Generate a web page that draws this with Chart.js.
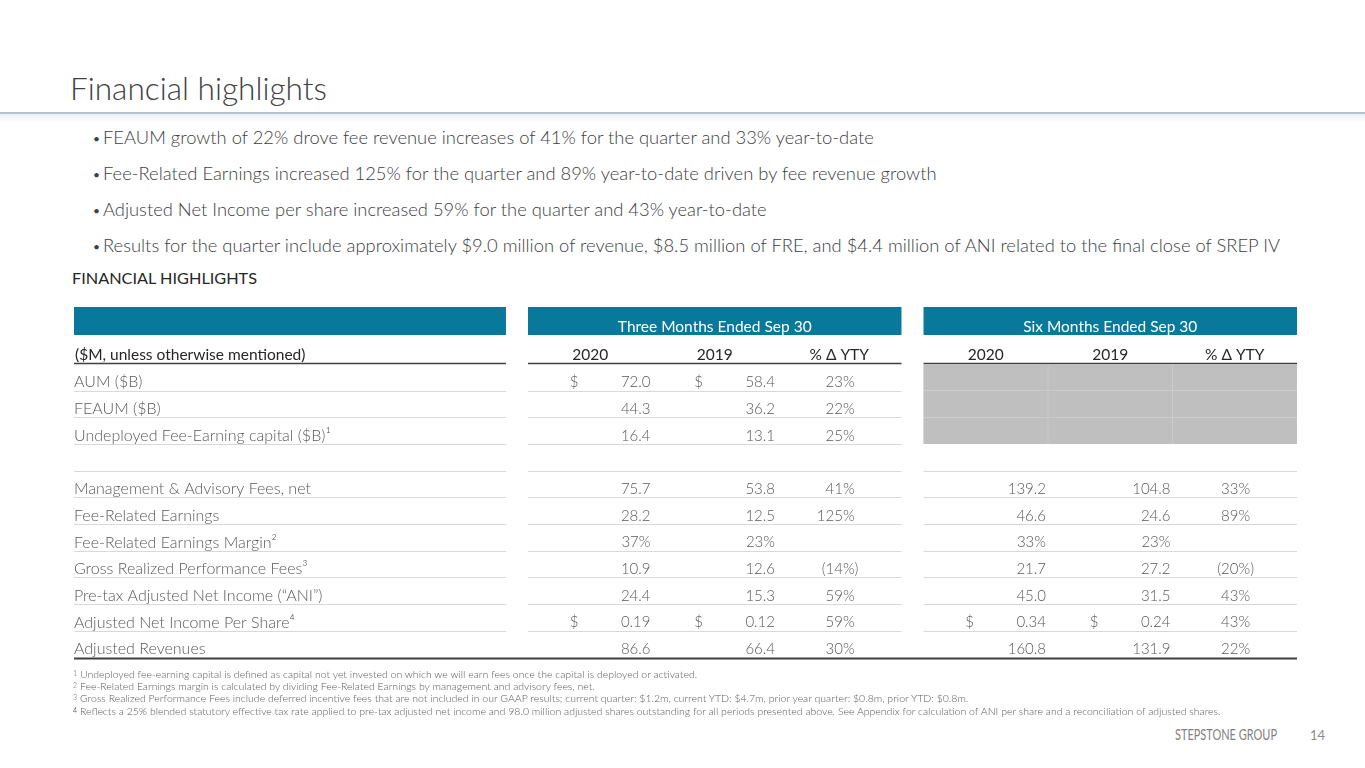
<!DOCTYPE html>
<html>
<head>
<meta charset="utf-8">
<title>Financial highlights</title>
<script src="https://cdn.jsdelivr.net/npm/chart.js@4.4.1/dist/chart.umd.min.js"></script>
<style>
    body { margin: 0; background: #fff; font-family: Lato, "Open Sans", sans-serif; }
    #page { position: relative; width: 1365px; height: 768px; overflow: hidden; background: #fff; }
    .t { position: absolute; white-space: nowrap; transform-origin: 0 50%; }
    #title { left: 70px; top: 71.6px; font-size: 32px; line-height: 32px; font-weight: 300; color: #404040; }
    #title-rule { position: absolute; left: 0; top: 112px; width: 1365px; height: 2px; background: #b3c5d1; }
    #title-shade { position: absolute; left: 0; top: 114px; width: 1365px; height: 8px;
        background: linear-gradient(rgba(205, 218, 228, 0.45), rgba(255, 255, 255, 0)); }
    .bullet-dot { position: absolute; left: 93px; font-size: 12px; color: #404040; }
    .bullet { left: 103px; font-size: 18px; line-height: 18px; font-weight: 300; color: #404040; }
    #section { left: 72px; top: 270.5px; font-size: 15.5px; line-height: 15.5px; color: #262626; }
    #table-box { position: absolute; left: 0; top: 296px; width: 1365px; height: 374px; }
    .note { left: 73px; font-size: 9.5px; line-height: 9.5px; font-weight: 300; color: #595959; }
    .note sup { font-size: 0.68em; vertical-align: 0.32em; }
    #brand { left: 1175px; top: 727px; font-size: 15px; line-height: 15px; color: #7f7f7f; }
    #page-no { left: 1310px; top: 729px; font-size: 13px; line-height: 13px; color: #8c8c8c; }
</style>
</head>
<body>
<div id="page">
    <div id="title" class="t">Financial highlights</div>
    <div id="title-rule"></div>
    <div id="title-shade"></div>
    <div id="bullets"></div>
    <div id="section" class="t">FINANCIAL HIGHLIGHTS</div>
    <div id="table-box"><canvas id="fin-table"></canvas></div>
    <div id="notes"></div>
    <div id="brand" class="t">STEPSTONE GROUP</div>
    <div id="page-no" class="t">14</div>
</div>
<script>
// Slide text
const BULLETS = [
    'FEAUM growth of 22% drove fee revenue increases of 41% for the quarter and 33% year-to-date',
    'Fee-Related Earnings increased 125% for the quarter and 89% year-to-date driven by fee revenue growth',
    'Adjusted Net Income per share increased 59% for the quarter and 43% year-to-date',
    'Results for the quarter include approximately $9.0 million of revenue, $8.5 million of FRE, and $4.4 million of ANI related to the final close of SREP IV'
];

const FOOTNOTES = [
    'Undeployed fee-earning capital is defined as capital not yet invested on which we will earn fees once the capital is deployed or activated.',
    'Fee-Related Earnings margin is calculated by dividing Fee-Related Earnings by management and advisory fees, net.',
    'Gross Realized Performance Fees include deferred incentive fees that are not included in our GAAP results; current quarter: $1.2m, current YTD: $4.7m, prior year quarter: $0.8m, prior YTD: $0.8m.',
    'Reflects a 25% blended statutory effective tax rate applied to pre-tax adjusted net income and 98.0 million adjusted shares outstanding for all periods presented above. See Appendix for calculation of ANI per share and a reconciliation of adjusted shares.'
];

// Table data
const rowLabels = [
    'AUM ($B)',
    'FEAUM ($B)',
    'Undeployed Fee-Earning capital ($B)¹',
    '',
    'Management & Advisory Fees, net',
    'Fee-Related Earnings',
    'Fee-Related Earnings Margin²',
    'Gross Realized Performance Fees³',
    'Pre-tax Adjusted Net Income (“ANI”)',
    'Adjusted Net Income Per Share⁴',
    'Adjusted Revenues'
];
const threeMonth2020 = ['72.0', '44.3', '16.4', '', '75.7', '28.2', '37%', '10.9', '24.4', '0.19', '86.6'];
const threeMonth2019 = ['58.4', '36.2', '13.1', '', '53.8', '12.5', '23%', '12.6', '15.3', '0.12', '66.4'];
const threeMonthYty = ['23%', '22%', '25%', '', '41%', '125%', '', '(14%)', '59%', '59%', '30%'];
const sixMonth2020 = ['', '', '', '', '139.2', '46.6', '33%', '21.7', '45.0', '0.34', '160.8'];
const sixMonth2019 = ['', '', '', '', '104.8', '24.6', '23%', '27.2', '31.5', '0.24', '131.9'];
const sixMonthYty = ['', '', '', '', '33%', '89%', '', '(20%)', '43%', '43%', '22%'];
const dollarRowsThree = [0, 9];
const dollarRowsSix = [9];
const shadedRowsSix = [0, 1, 2];   // not reported for the six-month period
const groupTitles = ['Three Months Ended Sep 30', 'Six Months Ended Sep 30'];
const columnHeaders = ['2020', '2019', '% Δ YTY'];
const unitLabel = '($M, unless otherwise mentioned)';

const COLUMNS = [
    { values: threeMonth2020, dollars: dollarRowsThree, pct: false },
    { values: threeMonth2019, dollars: dollarRowsThree, pct: false },
    { values: threeMonthYty, dollars: [], pct: true },
    { values: sixMonth2020, dollars: dollarRowsSix, pct: false },
    { values: sixMonth2019, dollars: dollarRowsSix, pct: false },
    { values: sixMonthYty, dollars: [], pct: true }
];

// x units: one unit per column, small gap between the two period groups
const GROUP_GAP = 0.177;
const colStart = c => (c < 3 ? c : c + GROUP_GAP);
const X_MAX = 6 + GROUP_GAP;

const TEAL = '#08789b';
const TEXT_LIGHT = '#595959';
const TEXT_DARK = '#262626';
const FONT = 'Lato, "Open Sans", sans-serif';
const ROW_TEXT_SHIFT = 5;

/**
 * Squeeze a text element horizontally to a target width
 */
function fitWidth(els, ref, width) {
    const ratio = width / ref.getBoundingClientRect().width;
    els.forEach(el => { el.style.transform = `scaleX(${ratio})`; });
}

/**
 * Resize font so the reference line gets the target width (no transform)
 */
function fitFontSize(els, ref, width) {
    const size = parseFloat(getComputedStyle(ref).fontSize);
    const next = size * width / ref.getBoundingClientRect().width;
    els.forEach(el => { el.style.fontSize = `${next}px`; });
}

function buildText() {
    const bulletBox = document.getElementById('bullets');
    const bulletEls = BULLETS.map((txt, i) => {
        const baseline = 144 + i * 36;
        const dot = document.createElement('div');
        dot.className = 'bullet-dot';
        dot.textContent = '•';
        dot.style.top = `${baseline - 13}px`;
        bulletBox.appendChild(dot);

        const el = document.createElement('div');
        el.className = 't bullet';
        el.textContent = txt;
        el.style.top = `${baseline - 16}px`;
        bulletBox.appendChild(el);
        return el;
    });
    fitWidth(bulletEls, bulletEls[3], 1177);

    const noteBox = document.getElementById('notes');
    const noteEls = FOOTNOTES.map((txt, i) => {
        const el = document.createElement('div');
        el.className = 't note';
        el.innerHTML = `<sup>${i + 1}</sup> `;
        el.appendChild(document.createTextNode(txt));
        el.style.top = `${668.5 + i * 12.4}px`;
        noteBox.appendChild(el);
        return el;
    });
    fitFontSize(noteEls, noteEls[3], 1149);

    fitWidth([document.getElementById('title')], document.getElementById('title'), 257);
    fitWidth([document.getElementById('section')], document.getElementById('section'), 185);
    fitWidth([document.getElementById('brand')], document.getElementById('brand'), 102);
}

/**
 * Plugin that paints the table furniture and cell values on the chart scales
 */
const tablePlugin = {
    id: 'financialTable',
    beforeDatasetsDraw(chart) {
        const { ctx, chartArea: area, scales: { x, y } } = chart;
        const half = (y.getPixelForValue(1) - y.getPixelForValue(0)) / 2;
        const gapPx = x.getPixelForValue(colStart(3)) - x.getPixelForValue(3);
        const segs = [
            [y.left, area.left - gapPx],
            [x.getPixelForValue(colStart(0)), x.getPixelForValue(colStart(2) + 1)],
            [x.getPixelForValue(colStart(3)), x.getPixelForValue(colStart(5) + 1)]
        ];
        ctx.save();

        // teal group headers
        ctx.fillStyle = TEAL;
        segs.forEach(([l, r]) => ctx.fillRect(l, area.top - 57, r - l, 28));
        ctx.fillStyle = '#ffffff';
        ctx.font = `400 15.5px ${FONT}`;
        ctx.textAlign = 'center';
        ctx.textBaseline = 'middle';
        groupTitles.forEach((t, g) => {
            const [l, r] = segs[g + 1];
            ctx.fillText(t, (l + r) / 2, area.top - 37);
        });

        // column header row
        ctx.fillStyle = TEXT_DARK;
        ctx.font = `400 15.5px ${FONT}`;
        ctx.textAlign = 'left';
        ctx.fillText(unitLabel, y.left + 1, area.top - 9);
        ctx.textAlign = 'center';
        for (let c = 0; c < 6; c++) {
            const cx = x.getPixelForValue(colStart(c) + 0.5);
            ctx.fillText(columnHeaders[c % 3], cx, area.top - 9);
        }

        // row separators
        ctx.strokeStyle = '#d9d9d9';
        ctx.lineWidth = 1;
        for (let i = 0; i < rowLabels.length - 1; i++) {
            const ly = Math.round(y.getPixelForValue(i) + half) + 0.5;
            segs.forEach(([l, r], s) => {
                if (s === 2 && shadedRowsSix.includes(i)) return;
                ctx.beginPath();
                ctx.moveTo(l, ly);
                ctx.lineTo(r, ly);
                ctx.stroke();
            });
        }

        // header underline
        ctx.strokeStyle = '#404040';
        ctx.lineWidth = 1.5;
        segs.forEach(([l, r]) => {
            ctx.beginPath();
            ctx.moveTo(l, area.top - 0.5);
            ctx.lineTo(r, area.top - 0.5);
            ctx.stroke();
        });

        // closing rule under the table
        ctx.lineWidth = 2;
        ctx.strokeStyle = '#3f3f3f';
        ctx.beginPath();
        ctx.moveTo(segs[0][0], area.bottom + 1);
        ctx.lineTo(segs[2][1], area.bottom + 1);
        ctx.stroke();
        ctx.restore();
    },
    afterDatasetsDraw(chart) {
        const { ctx, scales: { x, y } } = chart;
        ctx.save();
        ctx.fillStyle = TEXT_LIGHT;
        ctx.font = `300 15px ${FONT}`;
        ctx.textBaseline = 'middle';
        const parenW = ctx.measureText(')').width;

        COLUMNS.forEach((col, c) => {
            const left = x.getPixelForValue(colStart(c));
            const right = x.getPixelForValue(colStart(c) + 1);
            col.values.forEach((val, i) => {
                const cy = y.getPixelForValue(i) + ROW_TEXT_SHIFT;
                if (col.dollars.includes(i)) {
                    ctx.textAlign = 'center';
                    ctx.fillText('$', left + 46, cy);
                }
                if (!val) return;
                ctx.textAlign = 'right';
                if (col.pct) {
                    const shift = val.endsWith(')') ? 0 : parenW;
                    ctx.fillText(val, right - 43 - shift, cy);
                } else {
                    ctx.fillText(val, right - 2, cy);
                }
            });
        });
        ctx.restore();
    }
};

function createTable() {
    const canvas = document.getElementById('fin-table');

    // grey cells for the six-month rows that are not reported
    const shadeSets = [3, 4, 5].map(c => ({
        label: `shade-${c}`,
        data: rowLabels.map((_, i) => (shadedRowsSix.includes(i) ? [colStart(c), colStart(c) + 1] : null)),
        backgroundColor: '#bfbfbf',
        borderColor: '#cdcdcd',
        borderWidth: { left: 0.5, right: 0.5, top: 0, bottom: 0 },
        borderSkipped: false,
        grouped: false,
        barPercentage: 1,
        categoryPercentage: 1
    }));

    return new Chart(canvas.getContext('2d'), {
        type: 'bar',
        data: {
            labels: rowLabels,
            datasets: shadeSets
        },
        options: {
            indexAxis: 'y',
            responsive: true,
            maintainAspectRatio: false,
            animation: false,
            events: [],
            layout: {
                padding: { left: 74, right: 68, top: 68, bottom: 9 }
            },
            plugins: {
                legend: { display: false },
                tooltip: { enabled: false }
            },
            scales: {
                x: {
                    type: 'linear',
                    min: 0,
                    max: X_MAX,
                    display: false
                },
                y: {
                    type: 'category',
                    grid: { display: false },
                    border: { display: false },
                    afterFit(scale) {
                        scale.width = 454;
                    },
                    ticks: {
                        autoSkip: false,
                        crossAlign: 'far',
                        labelOffset: ROW_TEXT_SHIFT,
                        color: TEXT_LIGHT,
                        font: { family: FONT, size: 16, weight: '300' }
                    }
                }
            }
        },
        plugins: [tablePlugin]
    });
}

buildText();
createTable();
</script>
</body>
</html>
